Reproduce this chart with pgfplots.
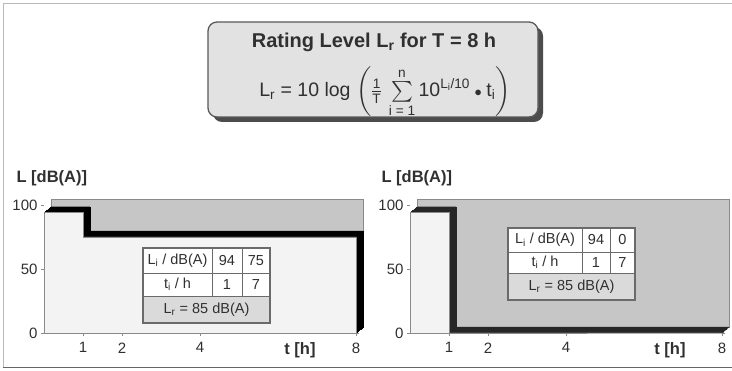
\documentclass[border=0pt]{standalone}
\usepackage{pgfplots}
\pgfplotsset{compat=1.18}
\usepackage{pgfplotstable}
\usepackage{amsmath}
\usepackage{fontspec}
\setmainfont{Liberation Sans}
\definecolor{wall}{HTML}{C6C6C6}
\definecolor{front}{HTML}{F3F3F3}
\definecolor{edge}{HTML}{8A8A8A}
\definecolor{txt}{HTML}{303030}
\definecolor{boxfill}{HTML}{E2E2E2}
\definecolor{rowfill}{HTML}{DADADA}
\definecolor{tline}{HTML}{6A6A6A}

% time (h) and level L (dB(A)) along the outline of each profile
\pgfplotstableread{
t L
0 0
0 94
1 94
1 75
8 75
8 0
}\leftdata
\pgfplotstableread{
t L
0 0
0 94
1 94
1 0
8 0
}\rightdata
\pgfplotstableread{
t L
0 0
8 0
8 100
0 100
}\walldata

\pgfplotsset{
  step3d/.style={
    scale only axis, width=312pt, height=128pt,
    xmin=0, xmax=8, ymin=0, ymax=100,
    clip=false,
    axis line style={draw=none},
    xtick={1,2,4,8}, ytick={0,50,100},
    tick style={edge, line width=0.6pt},
    major tick length=3pt,
    tick align=outside,
    ticklabel style={font=\fontsize{15}{17}\selectfont, text=txt},
    /pgf/number format/assume math mode=true,
    xticklabel style={yshift=-3pt},
  },
}

\begin{document}
\begin{tikzpicture}[x=1pt,y=1pt]
\useasboundingbox (0,0) rectangle (732,371);
\fill[white] (0,0) rectangle (732,371);
\draw[gray!55, line width=1.6pt] (733,3.5) -- (3.5,3.5) -- (3.5,367.5) -- (733,367.5);
\draw[black!60, line width=1pt] (3,3) -- (733,3);

% title box
\fill[black!70, rounded corners=9pt] (213,249) rectangle (543,344);
\draw[fill=boxfill, draw=black!65, line width=1.3pt, rounded corners=9pt] (208,254) rectangle (538,349);
\node[font=\bfseries\fontsize{20}{24}\selectfont, text=txt] at (374,329) {Rating Level L\textsubscript{r} for T = 8 h};
\node[font=\fontsize{19.5}{22}\selectfont, text=txt, inner sep=0pt] at (385,279)
  {L\textsubscript{r} = 10 log $\left(\tfrac{\text{1}}{\text{T}}\,\sum\limits_{\text{i = 1}}^{\text{n}}\text{10}^{\text{L}_{\text{i}}\text{/10}}\mathbin{\scriptstyle\bullet}\text{t}_{\text{i}}\right)$};

% left chart
\begin{axis}[step3d, at={(44pt,38pt)}, anchor=south west]
\addplot[fill=wall, draw=edge, line width=0.5pt, xshift=7pt, yshift=6pt] table[x=t,y=L] {\walldata} -- cycle;
\pgfplotsinvokeforeach{0.5,1,...,7}{
  \addplot[fill=black, draw=black, line width=0.3pt, xshift=#1pt, yshift=0.857*#1pt] table[x=t,y=L] {\leftdata} -- cycle;
}
\addplot[fill=front, draw=edge, line width=0.5pt] table[x=t,y=L] {\leftdata} -- cycle;
\end{axis}

% right chart
\begin{axis}[step3d, at={(410pt,38pt)}, anchor=south west]
\addplot[fill=wall, draw=edge, line width=0.5pt, xshift=7pt, yshift=6pt] table[x=t,y=L] {\walldata} -- cycle;
\pgfplotsinvokeforeach{0.5,1,...,7}{
  \addplot[fill=black!85, draw=black!85, line width=0.3pt, xshift=#1pt, yshift=0.857*#1pt] table[x=t,y=L] {\rightdata} -- cycle;
}
\addplot[fill=front, draw=edge, line width=0.5pt] table[x=t,y=L] {\rightdata} -- cycle;
\end{axis}

% axis labels
\begin{scope}[font=\bfseries\fontsize{16.5}{19}\selectfont, text=txt]
\node[anchor=west] at (13,193) {L [dB(A)]};
\node[anchor=west] at (378,193) {L [dB(A)]};
\node at (300,21) {t [h]};
\node at (670,21) {t [h]};
\end{scope}

% left table
\begin{scope}[font=\fontsize{14.5}{17}\selectfont, text=txt]
\fill[white] (143,123) rectangle (270,75);
\fill[rowfill] (143,75) rectangle (270,48);
\draw[tline, line width=0.9pt] (143,98) -- (270,98) (143,75) -- (270,75) (212,123) -- (212,75) (242,123) -- (242,75);
\draw[tline, line width=1.1pt] (143,123) rectangle (270,48);
\node at (177.5,110.5) {L\textsubscript{i} / dB(A)};
\node at (227,110.5) {94};
\node at (256,110.5) {75};
\node at (177.5,86.5) {t\textsubscript{i} / h};
\node at (227,86.5) {1};
\node at (256,86.5) {7};
\node at (206.5,61.5) {L\textsubscript{r} = 85 dB(A)};
\end{scope}

% right table
\begin{scope}[font=\fontsize{14.5}{17}\selectfont, text=txt]
\fill[white] (508,143) rectangle (635,98);
\fill[rowfill] (508,98) rectangle (635,71);
\draw[tline, line width=0.9pt] (508,119) -- (635,119) (508,98) -- (635,98) (582,143) -- (582,98) (610,143) -- (610,98);
\draw[tline, line width=1.1pt] (508,143) rectangle (635,71);
\node at (545,131) {L\textsubscript{i} / dB(A)};
\node at (596,131) {94};
\node at (622.5,131) {0};
\node at (545,108.5) {t\textsubscript{i} / h};
\node at (596,108.5) {1};
\node at (622.5,108.5) {7};
\node at (571.5,84.5) {L\textsubscript{r} = 85 dB(A)};
\end{scope}
\end{tikzpicture}
\end{document}
